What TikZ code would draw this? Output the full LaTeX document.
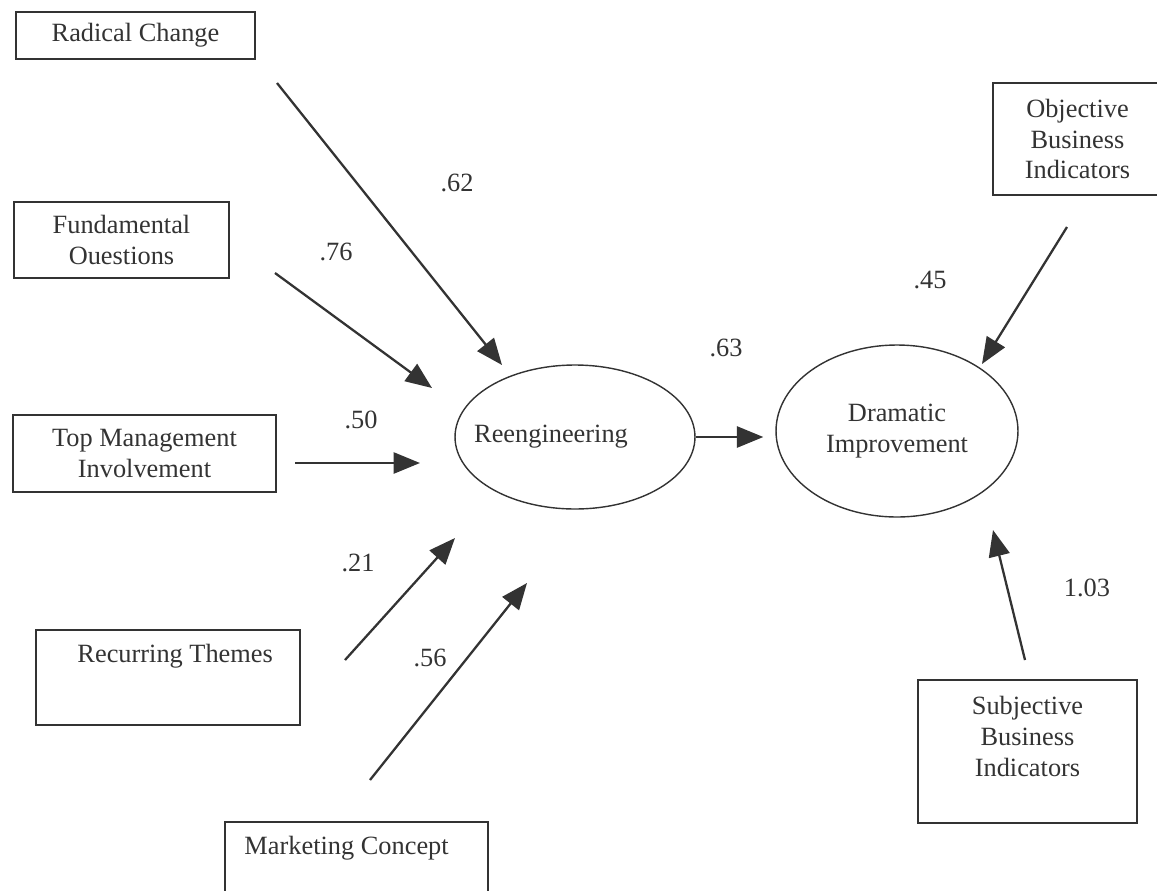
\documentclass[tikz,border=0pt]{standalone}
\usepackage{fontspec}
\setmainfont{Liberation Serif}
\usetikzlibrary{arrows.meta,shapes.geometric}
\definecolor{ink}{HTML}{333333}
\begin{document}
\begin{tikzpicture}[x=0.02cm,y=-0.02cm,
  every node/.style={font=\fontsize{15}{17.5}\selectfont, text=ink},
  box/.style={draw=ink, line width=1pt, rectangle, inner sep=0pt, align=center},
  latent/.style={draw=ink, line width=0.8pt, ellipse, inner sep=0pt, align=center},
  path/.style={draw=ink, line width=1.3pt, -{Triangle[length=15pt,width=12pt]}},
  coef/.style={inner sep=0pt}]
\useasboundingbox (0,0) rectangle (1157,890);

\node[box, minimum width=4.78cm, minimum height=0.94cm] (rc) at (135.5,35.5) {Radical Change};
\node[box, minimum width=4.3cm, minimum height=1.52cm] (fq) at (121.5,240) {Fundamental\\Ouestions};
\node[box, minimum width=5.26cm, minimum height=1.54cm] (tm) at (144.5,453.5) {Top Management\\Involvement};
\node[box, minimum width=5.28cm, minimum height=1.9cm,
  label={[anchor=north west, inner sep=0pt, xshift=0.84cm, yshift=-0.3cm]north west:Recurring Themes}] (rt) at (168,677.5) {};
\node[box, minimum width=5.26cm, minimum height=1.56cm,
  label={[anchor=north west, inner sep=0pt, xshift=0.4cm, yshift=-0.3cm]north west:Marketing Concept}] (mc) at (356.5,861) {};
\node[box, minimum width=3.38cm, minimum height=2.24cm] (ob) at (1077.5,139) {Objective\\Business\\Indicators};
\node[box, minimum width=4.38cm, minimum height=2.86cm,
  label={[align=center, yshift=0.3cm]center:Subjective\\Business\\Indicators}] (sb) at (1027.5,751.5) {};

\node[latent, minimum width=4.8cm, minimum height=2.88cm,
  label={[xshift=-0.48cm]center:Reengineering}] (reeng) at (575,437) {};
\node[latent, minimum width=4.84cm, minimum height=3.44cm] (di) at (897,431) {Dramatic\\Improvement};

\coordinate (rc-s) at (277,83);   \coordinate (rc-e) at (502,365);
\coordinate (fq-s) at (275,273);  \coordinate (fq-e) at (432,388);
\coordinate (tm-s) at (295,463);  \coordinate (tm-e) at (420,463);
\coordinate (rt-s) at (345,660);  \coordinate (rt-e) at (455,538);
\coordinate (mc-s) at (370,780);  \coordinate (mc-e) at (527,583);
\coordinate (ob-s) at (1067,227); \coordinate (ob-e) at (982,364);
\coordinate (sb-s) at (1025,660); \coordinate (sb-e) at (993,530);

\draw[path] (rc-s) -- (rc-e);
\draw[path] (fq-s) -- (fq-e);
\draw[path] (tm-s) -- (tm-e);
\draw[path] (rt-s) -- (rt-e);
\draw[path] (mc-s) -- (mc-e);
\draw[path, shorten >=0.24cm] (reeng.east) -- (reeng.east -| di.west);
\draw[path] (ob-s) -- (ob-e);
\draw[path] (sb-s) -- (sb-e);

\node[coef] (c-rc) at (457,183) {.62};
\node[coef] (c-fq) at (336,252) {.76};
\node[coef] (c-tm) at (361,420) {.50};
\node[coef] (c-rt) at (358,563) {.21};
\node[coef] (c-mc) at (430,658) {.56};
\node[coef] (c-di) at (726,348) {.63};
\node[coef] (c-ob) at (930,280) {.45};
\node[coef] (c-sb) at (1087,588) {1.03};
\end{tikzpicture}
\end{document}
